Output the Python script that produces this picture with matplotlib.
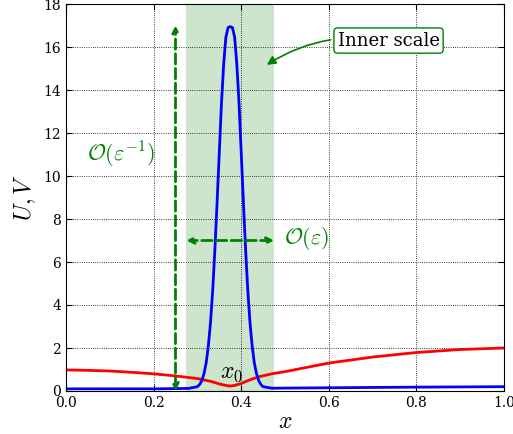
import matplotlib
matplotlib.use("Agg")
import matplotlib.pyplot as plt

# values
x_red = [0.0, 0.05, 0.1, 0.15, 0.2, 0.25, 0.3, 0.33, 0.35, 0.365, 0.375, 0.385,
         0.4, 0.42, 0.44, 0.47, 0.5, 0.55, 0.6, 0.7, 0.8, 0.9, 1.0]
u_red = [0.98, 0.96, 0.93, 0.87, 0.8, 0.7, 0.58, 0.45, 0.33, 0.26, 0.23, 0.26,
         0.35, 0.52, 0.66, 0.8, 0.9, 1.1, 1.3, 1.58, 1.79, 1.93, 2.0]

x_blue = [0.0, 0.1, 0.2, 0.28, 0.3, 0.305, 0.31, 0.315, 0.32, 0.325, 0.33, 0.335,
          0.34, 0.345, 0.35, 0.355, 0.36, 0.365, 0.37, 0.375, 0.38, 0.385, 0.39,
          0.395, 0.4, 0.405, 0.41, 0.415, 0.42, 0.425, 0.43, 0.435, 0.44, 0.445,
          0.45, 0.47, 0.6, 0.8, 1.0]
v_blue = [0.1, 0.1, 0.1, 0.12, 0.2, 0.3, 0.48, 0.8, 1.3, 2.1, 3.2, 4.7,
          6.6, 8.8, 11.1, 13.4, 15.2, 16.46, 16.9, 16.95, 16.9, 16.46, 15.2,
          13.4, 11.1, 8.8, 6.6, 4.7, 3.2, 2.1, 1.3, 0.8, 0.48, 0.3,
          0.2, 0.13, 0.15, 0.18, 0.2]

inner_lo, inner_hi = 0.275, 0.475
x_ticks = [0.0, 0.2, 0.4, 0.6, 0.8, 1.0]
y_ticks = [0, 2, 4, 6, 8, 10, 12, 14, 16, 18]

plt.rcParams["font.family"] = "DejaVu Serif"
plt.rcParams["mathtext.fontset"] = "cm"
plt.rcParams["xtick.direction"] = "in"
plt.rcParams["ytick.direction"] = "in"
plt.rcParams["xtick.top"] = True
plt.rcParams["ytick.right"] = True
plt.rcParams["xtick.major.size"] = 4
plt.rcParams["ytick.major.size"] = 4

fig = plt.figure(figsize=(5.13, 4.34), dpi=100)
ax = fig.add_axes([66 / 513, 43 / 434, 438 / 513, 387 / 434])

ax.axvspan(inner_lo, inner_hi, color="green", alpha=0.2, lw=0)
ax.plot(x_red, u_red, color="red", lw=2)
ax.plot(x_blue, v_blue, color="blue", lw=2)

ax.annotate("", xy=(0.25, 17.0), xytext=(0.25, 0.0),
            arrowprops=dict(arrowstyle="<->", color="green", lw=2, ls="--",
                            shrinkA=0, shrinkB=0))
ax.annotate("", xy=(inner_lo, 7.0), xytext=(inner_hi, 7.0),
            arrowprops=dict(arrowstyle="<->", color="green", lw=2, ls="--",
                            shrinkA=0, shrinkB=0))

ax.text(0.048, 11.0, r"$\mathcal{O}(\varepsilon^{-1})$", color="green",
        fontsize=16, va="center")
ax.text(0.497, 7.1, r"$\mathcal{O}(\varepsilon)$", color="green",
        fontsize=16, va="center")
ax.text(0.352, 0.85, r"$x_0$", fontsize=17, va="center")

ax.annotate("Inner scale", xy=(0.453, 15.1), xytext=(0.62, 16.3),
            fontsize=13, va="center",
            bbox=dict(boxstyle="round,pad=0.2", fc="white", ec="green"),
            arrowprops=dict(arrowstyle="-|>", color="green", lw=1.2,
                            connectionstyle="arc3,rad=0.2"))

ax.set_xlim(0, 1)
ax.set_ylim(0, 18)
ax.set_xticks(x_ticks)
ax.set_yticks(y_ticks)
ax.tick_params(labelsize=10)
ax.grid(True, color="black", ls=":", lw=0.6)
ax.set_xlabel(r"$x$", fontsize=17, labelpad=0)
ax.set_ylabel(r"$U,V$", fontsize=17)

fig.savefig("out.png", dpi=100)
